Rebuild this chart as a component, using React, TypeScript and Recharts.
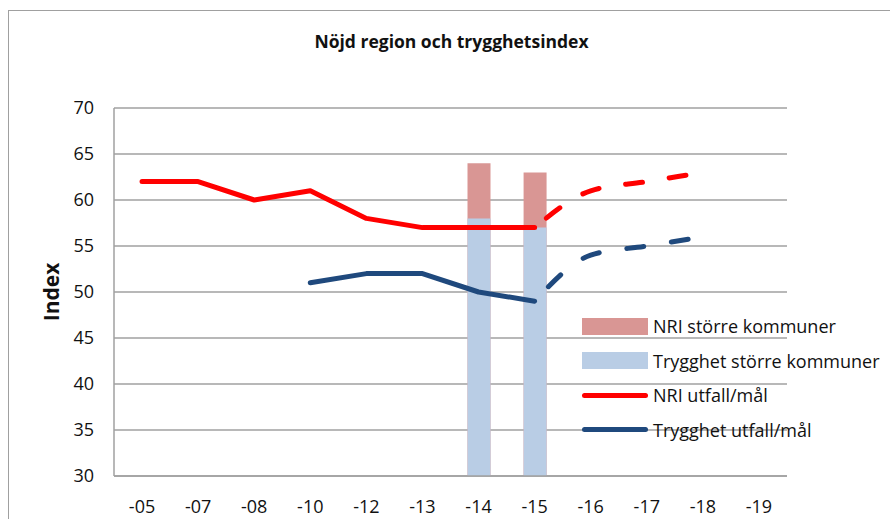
import { ComposedChart, Bar, Line, XAxis, YAxis, CartesianGrid } from "recharts"

const years = ["-05", "-07", "-08", "-10", "-12", "-13", "-14", "-15", "-16", "-17", "-18", "-19"]
const nriKommuner = [null, null, null, null, null, null, 64, 63, null, null, null, null]
const tryggKommuner = [null, null, null, null, null, null, 58, 57, null, null, null, null]
const nriUtfall = [62, 62, 60, 61, 58, 57, 57, 57, null, null, null, null]
const nriMal = [null, null, null, null, null, null, null, 57, 61, 62, 63, null]
const tryggUtfall = [null, null, null, 51, 52, 52, 50, 49, null, null, null, null]
const tryggMal = [null, null, null, null, null, null, null, 49, 54, 55, 56, null]
const yTicks = [30, 35, 40, 45, 50, 55, 60, 65, 70]

const RED = "#ff0000"
const NAVY = "#1f497d"
const PINK = "#d99694"
const LIGHTBLUE = "#b9cde5"
const FONT = "'Open Sans', Lato, sans-serif"

const chartData = years.map((year, i) => ({
  year,
  nriKommuner: nriKommuner[i],
  tryggKommuner: tryggKommuner[i],
  nriUtfall: nriUtfall[i],
  nriMal: nriMal[i],
  tryggUtfall: tryggUtfall[i],
  tryggMal: tryggMal[i],
}))

const legendItems = [
  { label: "NRI större kommuner", color: PINK, kind: "box" },
  { label: "Trygghet större kommuner", color: LIGHTBLUE, kind: "box" },
  { label: "NRI utfall/mål", color: RED, kind: "line" },
  { label: "Trygghet utfall/mål", color: NAVY, kind: "line" },
]

function ChartLegend() {
  return (
    <div style={{ position: "absolute", left: 582, top: 309, fontFamily: FONT, fontSize: 18, color: "#111" }}>
      {legendItems.map((item) => (
        <div key={item.label} style={{ display: "flex", alignItems: "center", height: 34.5, whiteSpace: "nowrap" }}>
          {item.kind === "box" ? (
            <div style={{ width: 66, height: 17, background: item.color, marginRight: 5 }} />
          ) : (
            <div style={{ width: 66, height: 5, borderRadius: 3, background: item.color, marginRight: 5 }} />
          )}
          <span>{item.label}</span>
        </div>
      ))}
    </div>
  )
}

export default function App() {
  return (
    <div style={{ position: "absolute", left: 0, top: 0, width: 890, height: 519, overflow: "hidden", background: "#fff" }}>
      <div
        style={{
          position: "absolute",
          left: 8,
          top: 10,
          width: 900,
          height: 600,
          border: "1.5px solid #a0a0a0",
        }}
      />
      <div
        style={{
          position: "absolute",
          left: 0,
          width: 903,
          top: 29,
          textAlign: "center",
          fontFamily: FONT,
          fontWeight: 700,
          fontSize: 17.5,
          color: "#111",
        }}
      >
        Nöjd region och trygghetsindex
      </div>
      <div
        style={{
          position: "absolute",
          left: 51,
          top: 292,
          transform: "translate(-50%, -50%) rotate(-90deg)",
          fontFamily: FONT,
          fontWeight: 700,
          fontSize: 21,
          color: "#111",
          whiteSpace: "nowrap",
        }}
      >
        Index
      </div>
      <div style={{ position: "absolute", left: 0, top: 0 }}>
        <ComposedChart
          width={890}
          height={519}
          data={chartData}
          margin={{ top: 108, right: 103, bottom: 0, left: 64 }}
        >
          <CartesianGrid vertical={false} stroke="#a0a0a0" strokeWidth={1.5} />
          <XAxis
            xAxisId="main"
            dataKey="year"
            height={43}
            tick={{ fill: "#111", fontSize: 18, fontFamily: FONT }}
            axisLine={{ stroke: "#a0a0a0", strokeWidth: 1.5 }}
            tickLine={false}
            tickSize={0}
            tickMargin={24}
            interval={0}
          />
          <XAxis xAxisId="over" dataKey="year" hide height={0} />
          <YAxis
            domain={[30, 70]}
            ticks={yTicks}
            width={50}
            tick={{ fill: "#111", fontSize: 18, fontFamily: FONT }}
            axisLine={{ stroke: "#a0a0a0", strokeWidth: 1.5 }}
            tickLine={false}
            tickSize={0}
            tickMargin={20}
            allowDataOverflow
          />
          <Bar xAxisId="over" dataKey="nriKommuner" fill={PINK} barSize={23} isAnimationActive={false} />
          <Bar xAxisId="main" dataKey="tryggKommuner" fill={LIGHTBLUE} barSize={23} isAnimationActive={false} />
          <Line
            xAxisId="main"
            type="linear"
            dataKey="nriUtfall"
            stroke={RED}
            strokeWidth={5}
            strokeLinecap="round"
            strokeLinejoin="round"
            dot={false}
            isAnimationActive={false}
          />
          <Line
            xAxisId="main"
            type="monotone"
            dataKey="nriMal"
            stroke={RED}
            strokeWidth={5}
            strokeLinecap="round"
            strokeDasharray="17 27"
            strokeDashoffset={29}
            dot={false}
            isAnimationActive={false}
          />
          <Line
            xAxisId="main"
            type="linear"
            dataKey="tryggUtfall"
            stroke={NAVY}
            strokeWidth={5}
            strokeLinecap="round"
            strokeLinejoin="round"
            dot={false}
            isAnimationActive={false}
          />
          <Line
            xAxisId="main"
            type="monotone"
            dataKey="tryggMal"
            stroke={NAVY}
            strokeWidth={5}
            strokeLinecap="round"
            strokeDasharray="17 28"
            strokeDashoffset={25}
            dot={false}
            isAnimationActive={false}
          />
        </ComposedChart>
      </div>
      <ChartLegend />
    </div>
  )
}
